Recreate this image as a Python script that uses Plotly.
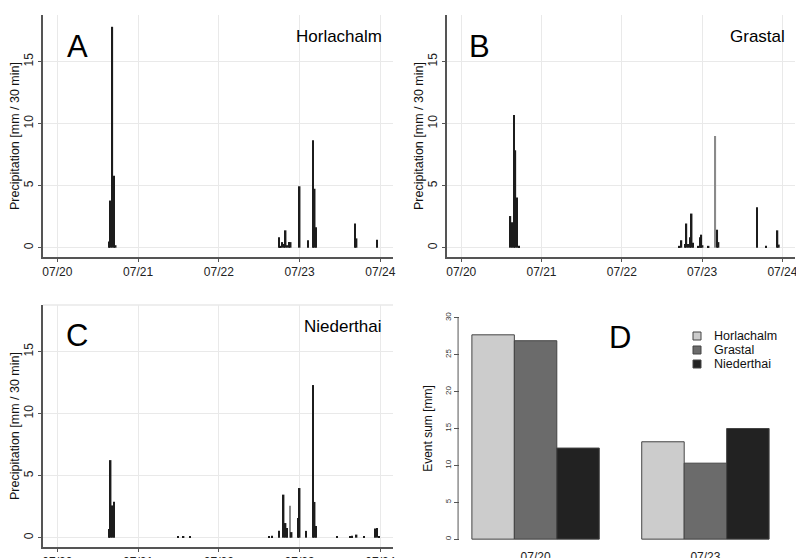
import plotly.graph_objects as go

# ---------------- data ----------------
# Panel A - Horlachalm, 30-min precipitation [mm]
horl_time = ["2013-07-20 15:20", "2013-07-20 15:50", "2013-07-20 16:20", "2013-07-20 16:50", "2013-07-20 17:20",
             "2013-07-22 17:50", "2013-07-22 18:20", "2013-07-22 18:50", "2013-07-22 19:20", "2013-07-22 19:50",
             "2013-07-22 20:20", "2013-07-22 20:50", "2013-07-22 21:20",
             "2013-07-23 00:00", "2013-07-23 02:30", "2013-07-23 04:00", "2013-07-23 04:28", "2013-07-23 04:55",
             "2013-07-23 16:30", "2013-07-23 16:55", "2013-07-23 23:00"]
horl_prec = [0.5, 3.8, 17.8, 5.8, 0.2,
             0.85, 0.15, 0.45, 0.3, 1.4,
             0.2, 0.45, 0.45,
             4.95, 0.6, 8.65, 4.75, 1.65,
             1.95, 0.75, 0.65]

# Panel B - Grastal
gras_time = ["2013-07-20 14:41", "2013-07-20 15:10", "2013-07-20 15:45", "2013-07-20 16:10", "2013-07-20 16:38",
             "2013-07-20 17:14",
             "2013-07-22 17:18", "2013-07-22 17:48", "2013-07-22 18:52", "2013-07-22 19:17", "2013-07-22 19:46",
             "2013-07-22 20:21", "2013-07-22 20:51", "2013-07-22 21:14", "2013-07-22 22:56", "2013-07-22 23:20",
             "2013-07-22 23:44", "2013-07-23 00:07", "2013-07-23 01:55", "2013-07-23 03:55", "2013-07-23 04:30",
             "2013-07-23 04:53", "2013-07-23 16:23", "2013-07-23 19:04", "2013-07-23 22:30", "2013-07-23 22:55"]
gras_prec = [2.55, 2.05, 10.7, 7.85, 4.05,
             0.15,
             0.15, 0.6, 0.3, 1.95, 0.3,
             0.85, 2.75, 0.4, 0.15, 0.85,
             1.05, 0.2, 0.15, 9.0, 1.45,
             0.45, 3.25, 0.15, 1.4, 0.25]

# Panel C - Niederthai
nied_time = ["2013-07-20 15:20", "2013-07-20 15:50", "2013-07-20 16:20", "2013-07-20 16:50",
             "2013-07-21 11:54", "2013-07-21 13:30", "2013-07-21 15:23",
             "2013-07-22 14:57", "2013-07-22 15:50", "2013-07-22 17:50", "2013-07-22 19:14", "2013-07-22 19:49",
             "2013-07-22 20:18", "2013-07-22 21:06", "2013-07-22 21:37", "2013-07-22 23:34", "2013-07-23 00:00",
             "2013-07-23 01:57", "2013-07-23 04:02", "2013-07-23 04:27", "2013-07-23 04:55", "2013-07-23 11:10",
             "2013-07-23 14:56", "2013-07-23 15:32", "2013-07-23 16:55", "2013-07-23 19:06", "2013-07-23 22:27",
             "2013-07-23 23:03", "2013-07-23 23:33"]
nied_prec = [0.7, 6.25, 2.6, 2.9,
             0.12, 0.12, 0.12,
             0.12, 0.15, 0.55, 3.47, 1.18,
             0.78, 2.58, 0.45, 1.58, 4.0,
             0.55, 12.3, 2.88, 0.94, 0.12,
             0.12, 0.15, 0.25, 0.12, 0.75,
             0.78, 0.12]

# Panel D - event sums [mm]
events = ["07/20", "07/23"]
stations = ["Horlachalm", "Grastal", "Niederthai"]
sum_horl = [27.7, 13.2]
sum_gras = [26.9, 10.3]
sum_nied = [12.35, 15.0]

y_ticks = [0, 5, 10, 15]
d_ticks = [0, 5, 10, 15, 20, 25, 30]

# ---------------- styling ----------------
FONT = "Liberation Sans, Arial, sans-serif"
BAR = "#1c1c1c"
LIGHT = "#8a8a8a"
GRID = "#e9e9e9"
AXIS = "#555555"
HALF_HOUR_MS = 30 * 60 * 1000
XRANGE = ["2013-07-19 19:45", "2013-07-24 03:45"]
YRANGE = [-0.75, 18.75]

# bars that render lighter (thin anti-aliased) in the original
light_bars = {"B": [gras_prec.index(9.0)], "C": [nied_prec.index(2.58)]}


def colors(n, light_idx):
    return [LIGHT if i in light_idx else BAR for i in range(n)]


fig = go.Figure()
fig.add_trace(go.Bar(x=horl_time, y=horl_prec, width=HALF_HOUR_MS, xaxis="x", yaxis="y",
                     marker=dict(color=BAR, line=dict(width=0)), showlegend=False))
fig.add_trace(go.Bar(x=gras_time, y=gras_prec, width=HALF_HOUR_MS, xaxis="x2", yaxis="y2",
                     marker=dict(color=colors(len(gras_prec), light_bars["B"]), line=dict(width=0)),
                     showlegend=False))
fig.add_trace(go.Bar(x=nied_time, y=nied_prec, width=HALF_HOUR_MS, xaxis="x3", yaxis="y3",
                     marker=dict(color=colors(len(nied_prec), light_bars["C"]), line=dict(width=0)),
                     showlegend=False))

d_colors = ["#cccccc", "#6b6b6b", "#222222"]
for name, vals, col in zip(stations, [sum_horl, sum_gras, sum_nied], d_colors):
    fig.add_trace(go.Bar(x=events, y=vals, name=name, xaxis="x4", yaxis="y4", showlegend=False,
                         marker=dict(color=col, line=dict(color="#444444", width=1))))

W, H = 796, 558


def dom_x(a, b):
    return [a / W, b / W]


def dom_y(top, bottom):
    return [(H - bottom) / H, (H - top) / H]


def ts_xaxis(domain, anchor):
    return dict(domain=domain, anchor=anchor, type="date", range=XRANGE, automargin=False,
                tick0="2013-07-20", dtick=86400000, tickformat="%m/%d",
                ticklabeloverflow="allow",
                showgrid=True, gridcolor=GRID, gridwidth=1, zeroline=False,
                showline=True, linecolor=AXIS, linewidth=1.5,
                ticks="outside", ticklen=3, tickcolor=AXIS,
                tickfont=dict(size=12, color="#222222", family=FONT))


def ts_yaxis(domain, anchor):
    return dict(domain=domain, anchor=anchor, range=YRANGE, tickvals=y_ticks, automargin=False,
                tickangle=-90, showgrid=True, gridcolor=GRID, gridwidth=1, zeroline=False,
                showline=True, linecolor=AXIS, linewidth=1.5,
                ticks="outside", ticklen=3, tickcolor=AXIS,
                tickfont=dict(size=12, color="#222222", family=FONT),
                title=dict(text="Precipitation [mm / 30 min]", standoff=0,
                           font=dict(size=12.5, color="#111111", family=FONT)))


fig.update_layout(
    width=W, height=H, autosize=False,
    margin=dict(l=0, r=0, t=0, b=0, pad=0),
    paper_bgcolor="white", plot_bgcolor="white",
    font=dict(family=FONT, color="#111111"),
    barmode="group", bargap=0.25, bargroupgap=0,
    showlegend=False,
    xaxis=ts_xaxis(dom_x(43, 393), "y"),
    yaxis=ts_yaxis(dom_y(15, 257), "x"),
    xaxis2=ts_xaxis(dom_x(447, 795), "y2"),
    yaxis2=ts_yaxis(dom_y(15, 257), "x2"),
    xaxis3=ts_xaxis(dom_x(43, 393), "y3"),
    yaxis3=ts_yaxis(dom_y(305, 547), "x3"),
    xaxis4=dict(domain=dom_x(460, 781), anchor="y4", type="category", range=[-0.445, 1.445],
                automargin=False, ticklabeloverflow="allow",
                showgrid=False, zeroline=False, showline=False, ticks="",
                tickfont=dict(size=12, color="#222222", family=FONT)),
    yaxis4=dict(domain=dom_y(309, 548), anchor="x4", range=[-1.2, 31.2], tickvals=d_ticks,
                automargin=False, tickangle=-90, showgrid=False, zeroline=False, showline=False,
                ticks="outside", ticklen=5, tickcolor=AXIS,
                tickfont=dict(size=8, color="#333333", family=FONT),
                title=dict(text="Event sum [mm]", standoff=8,
                           font=dict(size=12, color="#111111", family=FONT))),
)

# D axis line spanning 0..30 only
fig.add_shape(type="line", xref="x4 domain", yref="y4", x0=-0.006, x1=-0.006, y0=0, y1=30,
              line=dict(color=AXIS, width=1))
# light frame line at top of panel C
fig.add_shape(type="line", xref="x3 domain", yref="y3 domain", x0=0, x1=1, y0=1, y1=1,
              line=dict(color=GRID, width=1.5))

# legend of panel D (swatch + label per station)
leg_font = dict(size=12.5, color="#111111", family=FONT)
ann = []
for i, (name, col) in enumerate(zip(stations, d_colors)):
    yc = 336 + 14 * i
    fig.add_shape(type="rect", xref="paper", yref="paper",
                  x0=693 / W, x1=701 / W, y0=(H - yc - 4) / H, y1=(H - yc + 4) / H,
                  fillcolor=col, line=dict(color="#444444", width=1))
    ann.append(dict(text=name, x=712 / W, y=(H - yc) / H, xanchor="left", yanchor="middle",
                    font=leg_font))

big = dict(size=31, color="#000000", family=FONT)
name_font = dict(size=17, color="#000000", family=FONT)
ann += [
    dict(text="A", x=77 / W, y=(H - 47) / H, xanchor="center", yanchor="middle", font=big),
    dict(text="B", x=480 / W, y=(H - 47) / H, xanchor="center", yanchor="middle", font=big),
    dict(text="C", x=77 / W, y=(H - 335) / H, xanchor="center", yanchor="middle", font=big),
    dict(text="D", x=620 / W, y=(H - 337) / H, xanchor="center", yanchor="middle", font=big),
    dict(text="Horlachalm", x=384 / W, y=(H - 36) / H, xanchor="right", yanchor="middle", font=name_font),
    dict(text="Grastal", x=787 / W, y=(H - 36) / H, xanchor="right", yanchor="middle", font=name_font),
    dict(text="Niederthai", x=384 / W, y=(H - 327) / H, xanchor="right", yanchor="middle", font=name_font),
]
for a in ann:
    a.update(xref="paper", yref="paper", showarrow=False)
fig.update_layout(annotations=ann)

fig.write_html("out.html", config={"displayModeBar": False},
               post_script="document.body.style.margin='0px';")
